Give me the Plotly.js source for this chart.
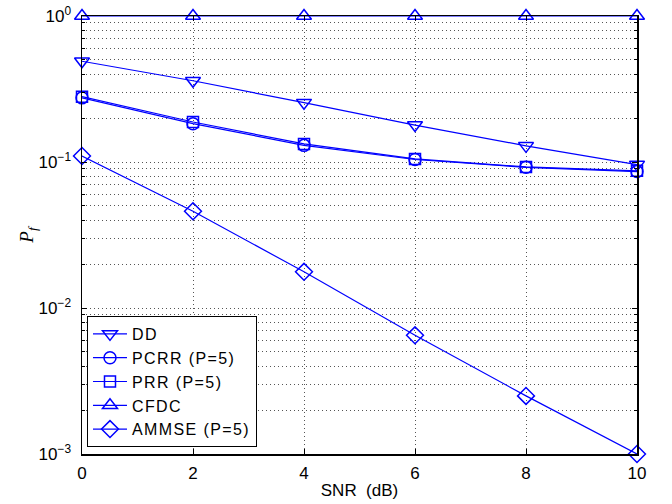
<!DOCTYPE html>
<html><head><meta charset="utf-8">
<script src="https://cdn.plot.ly/plotly-3.0.1.min.js"></script>
<style>body{margin:0;background:#fff}#g{width:672px;height:504px}
.legendtext{letter-spacing:1.4px}</style>
</head><body><div id="g"></div>
<script>
const snr = [0, 2, 4, 6, 8, 10];
const dd = [0.49, 0.36, 0.255, 0.179, 0.129, 0.096];
const pcrr = [0.275, 0.183, 0.130, 0.104, 0.092, 0.086];
const prr = [0.280, 0.188, 0.133, 0.105, 0.0925, 0.087];
const cfdc = [1, 1, 1, 1, 1, 1];
const ammse = [0.11, 0.046, 0.0177, 0.0065, 0.0025, 0.001];
const names = ['DD', 'PCRR (P=5)', 'PRR (P=5)', 'CFDC', 'AMMSE (P=5)'];
const yTickVals = [0.001, 0.01, 0.1, 1];
const yTickText = ['10<sup>−3</sup>', '10<sup>−2</sup>', '10<sup>−1</sup>', '10<sup>0</sup>'];
const xTickVals = [0, 2, 4, 6, 8, 10];

const series = [dd, pcrr, prr, cfdc, ammse];
const symbols = ['triangle-down-open', 'circle-open', 'square-open', 'triangle-up-open', 'diamond-open'];
const sizes = [13, 12, 11, 13, 13];
const blue = '#0000ff';
const traces = series.map((s, i) => ({
  x: snr, y: s, name: names[i], type: 'scatter', mode: 'lines+markers',
  cliponaxis: false,
  line: {color: blue, width: 1.2},
  marker: {symbol: symbols[i], size: sizes[i], color: blue, line: {color: blue, width: 1.5}}
}));

const gridDash = '1px,3px';
const layout = {
  width: 672, height: 504,
  margin: {l: 82, r: 35, t: 16, b: 50},
  paper_bgcolor: '#fff', plot_bgcolor: '#fff',
  font: {family: 'Liberation Sans, Arial, sans-serif', size: 17, color: '#000'},
  showlegend: true,
  legend: {x: 0.009, y: 0.016, xanchor: 'left', yanchor: 'bottom', bordercolor: '#000', borderwidth: 1,
    bgcolor: '#fff', font: {size: 16}, tracegroupgap: 0, itemwidth: 34},
  xaxis: {
    range: [0, 10], tickvals: xTickVals, ticks: 'inside', ticklen: 5, tickcolor: '#000',
    ticklabelstandoff: 3,
    showline: true, linecolor: '#000', linewidth: 1.5, mirror: 'ticks', zeroline: false,
    showgrid: true, gridcolor: '#555', griddash: gridDash, gridwidth: 1,
    title: {text: 'SNR  (dB)', font: {size: 17}, standoff: 2}
  },
  yaxis: {
    type: 'log', range: [-3, 0], tickvals: yTickVals, ticktext: yTickText,
    ticks: 'inside', ticklen: 5, tickcolor: '#000', ticklabelstandoff: 6,
    showline: true, linecolor: '#000', linewidth: 1.5, mirror: 'ticks', zeroline: false,
    showgrid: true, gridcolor: '#555', griddash: gridDash, gridwidth: 1,
    minor: {dtick: 'D1', showgrid: true, gridcolor: '#555', griddash: gridDash, gridwidth: 1, ticks: 'inside', ticklen: 3, tickcolor: '#000'},
    title: {text: '<i>P</i><sub><i>f</i></sub>', font: {family: 'Liberation Serif, Times New Roman, serif', size: 19}, standoff: 0}
  }
};
Plotly.newPlot('g', traces, layout, {displayModeBar: false, staticPlot: true});
</script></body></html>
